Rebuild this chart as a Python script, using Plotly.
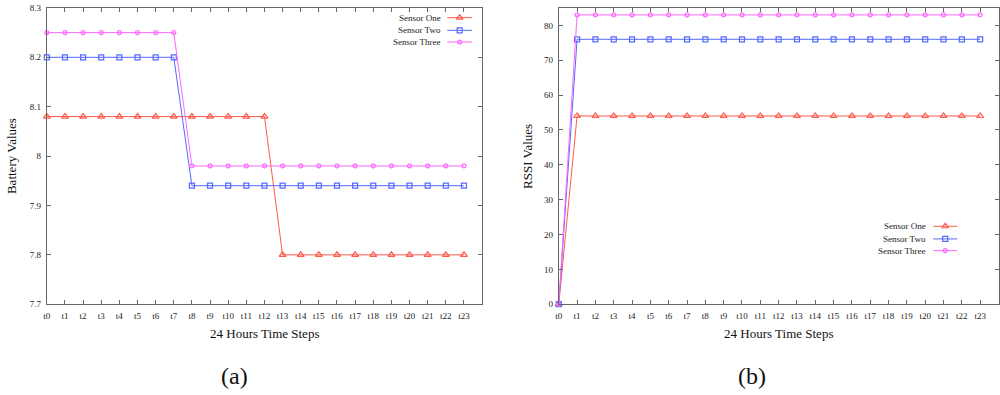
import plotly.graph_objects as go

# ---------------- data ----------------
time_labels = ["t0", "t1", "t2", "t3", "t4", "t5", "t6", "t7", "t8", "t9", "t10", "t11",
               "t12", "t13", "t14", "t15", "t16", "t17", "t18", "t19", "t20", "t21", "t22", "t23"]
steps = list(range(len(time_labels)))

series_names = ["Sensor One", "Sensor Two", "Sensor Three"]

battery_one = [8.08] * 13 + [7.80] * 11
battery_two = [8.20] * 8 + [7.94] * 16
battery_three = [8.25] * 8 + [7.98] * 16

rssi_one = [0] + [54] * 23
rssi_two = [0] + [76] * 23
rssi_three = [0] + [83] * 23

battery_ticks = [7.7, 7.8, 7.9, 8.0, 8.1, 8.2, 8.3]
battery_ticktext = ["7.7", "7.8", "7.9", "8", "8.1", "8.2", "8.3"]
rssi_ticks = [0, 10, 20, 30, 40, 50, 60, 70, 80]

# ---------------- style ----------------
W, H = 1000, 395
FONT = "Liberation Serif"
colors = ["#ff5a4a", "#5468ff", "#ff66ff"]
symbols = ["triangle-up-open", "square-open", "circle-open"]
msizes = [6, 5, 4]
AX = "#666666"

def px_x(p):
    return p / W

def px_y(p):
    return (H - p) / H

fig = go.Figure()

battery = [battery_one, battery_two, battery_three]
rssi = [rssi_one, rssi_two, rssi_three]

def mk(i):
    return dict(symbol=symbols[i], size=msizes[i], color=colors[i], line=dict(width=1.2, color=colors[i]))

for i in range(3):
    fig.add_trace(go.Scatter(
        x=steps, y=battery[i], mode="lines+markers", name=series_names[i],
        line=dict(color=colors[i], width=1), marker=mk(i),
        cliponaxis=False, showlegend=False, xaxis="x", yaxis="y"))
for i in range(3):
    fig.add_trace(go.Scatter(
        x=steps, y=rssi[i], mode="lines+markers", name=series_names[i],
        line=dict(color=colors[i], width=1), marker=mk(i),
        cliponaxis=False, showlegend=False, xaxis="x2", yaxis="y2"))

# custom gnuplot-style legends (text then sample) on a pixel overlay axis
legend_specs = [
    dict(text_right=441, x0=445, x1=470, ys=[13, 26, 38]),
    dict(text_right=928, x0=933, x1=957, ys=[227, 240, 252]),
]
annotations = []
for spec in legend_specs:
    for i in range(3):
        yy = spec["ys"][i]
        fig.add_trace(go.Scatter(
            x=[spec["x0"], spec["x1"]], y=[yy, yy], mode="lines",
            line=dict(color=colors[i], width=1), showlegend=False, hoverinfo="skip",
            xaxis="x3", yaxis="y3"))
        fig.add_trace(go.Scatter(
            x=[(spec["x0"] + spec["x1"]) / 2], y=[yy], mode="markers", marker=mk(i),
            showlegend=False, hoverinfo="skip", xaxis="x3", yaxis="y3"))
        annotations.append(dict(
            x=px_x(spec["text_right"]), y=px_y(yy), xref="paper", yref="paper",
            text=series_names[i], showarrow=False, xanchor="right", yanchor="middle",
            font=dict(family=FONT, size=9, color="#222222")))

# axis titles & panel labels
title_font = dict(family=FONT, size=13, color="#111111")
annotations += [
    dict(x=px_x(261.5), y=px_y(337), xref="paper", yref="paper", text="24 Hours Time Steps",
         showarrow=False, xanchor="center", yanchor="middle", font=title_font),
    dict(x=px_x(778), y=px_y(337), xref="paper", yref="paper", text="24 Hours Time Steps",
         showarrow=False, xanchor="center", yanchor="middle", font=title_font),
    dict(x=px_x(7), y=px_y(155), xref="paper", yref="paper", text="Battery Values", textangle=-90,
         showarrow=False, xanchor="center", yanchor="middle", font=title_font),
    dict(x=px_x(525), y=px_y(155), xref="paper", yref="paper", text="RSSI Values", textangle=-90,
         showarrow=False, xanchor="center", yanchor="middle", font=title_font),
    dict(x=px_x(231), y=px_y(381), xref="paper", yref="paper", text="(a)",
         showarrow=False, xanchor="center", yanchor="middle", font=dict(family=FONT, size=24, color="#111111")),
    dict(x=px_x(751), y=px_y(381), xref="paper", yref="paper", text="(b)",
         showarrow=False, xanchor="center", yanchor="middle", font=dict(family=FONT, size=24, color="#111111")),
]

tickfont = dict(family=FONT, size=9, color="#222222")
common_x = dict(range=[0, 24], tickvals=steps, ticktext=time_labels, ticks="inside", ticklen=4,
                tickcolor=AX, showline=True, linecolor=AX, linewidth=1, mirror="allticks",
                showgrid=False, zeroline=False, tickfont=tickfont, fixedrange=True,
                ticklabelstandoff=3, ticklabeloverflow="allow")
common_y = dict(ticks="inside", ticklen=4, tickcolor=AX, showline=True, linecolor=AX, linewidth=1,
                mirror="allticks", showgrid=False, zeroline=False, tickfont=tickfont, fixedrange=True,
                ticklabelstandoff=3, ticklabeloverflow="allow")

fig.update_layout(
    width=W, height=H,
    margin=dict(l=0, r=0, t=0, b=0),
    paper_bgcolor="white", plot_bgcolor="rgba(0,0,0,0)",
    showlegend=False,
    xaxis=dict(domain=[px_x(43), px_x(480)], anchor="y", **common_x),
    yaxis=dict(domain=[px_y(307), px_y(3)], anchor="x", range=[7.7, 8.3],
               tickvals=battery_ticks, ticktext=battery_ticktext, **common_y),
    xaxis2=dict(domain=[px_x(557), px_x(998.5)], anchor="y2", **common_x),
    yaxis2=dict(domain=[px_y(307), px_y(3)], anchor="x2", range=[0, 85],
                tickvals=rssi_ticks, **common_y),
    xaxis3=dict(domain=[0, 1], range=[0, W], visible=False, anchor="y3", fixedrange=True),
    yaxis3=dict(domain=[0, 1], range=[H, 0], visible=False, anchor="x3", fixedrange=True),
    annotations=annotations,
)

fig.write_html("out.html", config={"displayModeBar": False},
               post_script="document.body.style.margin='0';document.body.style.overflow='hidden';")
